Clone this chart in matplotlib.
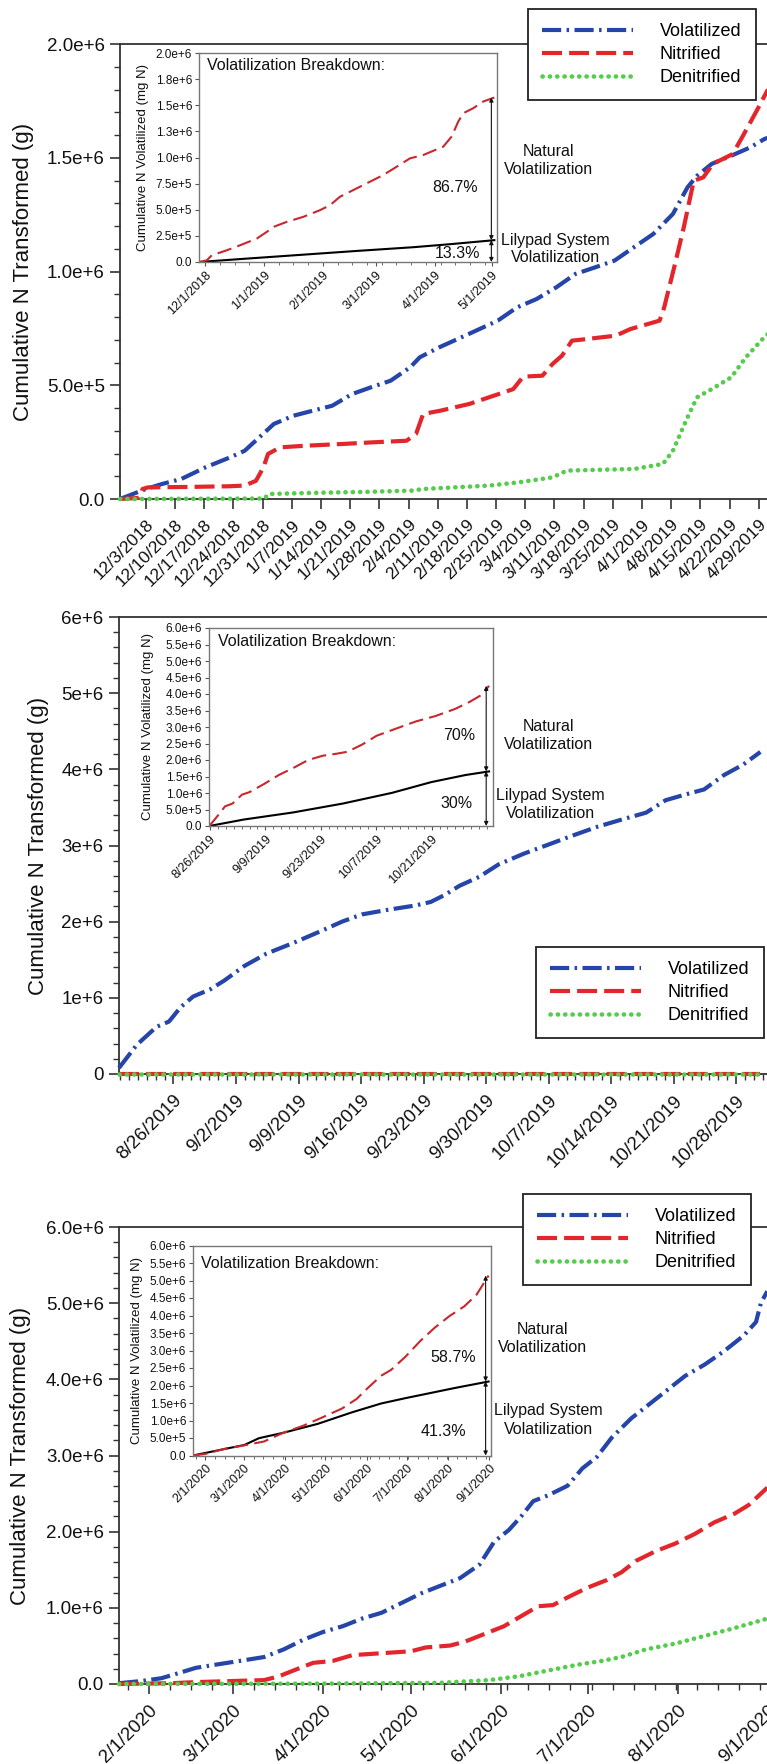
import numpy as np
import pandas as pd
import matplotlib
matplotlib.use("Agg")
import matplotlib.pyplot as plt
import matplotlib.dates as mdates
from matplotlib.ticker import FixedLocator, AutoMinorLocator, MultipleLocator
from matplotlib.lines import Line2D

plt.rcParams["font.family"] = ["Liberation Sans", "DejaVu Sans"]

W, H = 767, 1764

# ---------------- panel 1: Dec 2018 - Apr 2019 ----------------
p1_start = "2018-12-03"
p1_vol_days = [-6.2, 0, 3.9, 8.5, 14.4, 20.2, 23.7, 28.1, 30.7, 35.4, 40.0, 44.7, 49.4, 54.0,
               58.7, 63.4, 65.7, 70.4, 77.4, 84.4, 89.0, 93.7, 98.4, 103.0, 107.7, 112.4,
               117.0, 121.7, 126.4, 129.9, 132.2, 135.7, 140.4, 145.0, 148.3, 149.5]
p1_vol = [0, 44e3, 66e3, 88e3, 140e3, 183e3, 212e3, 286e3, 330e3, 366e3, 388e3, 410e3, 461e3,
          491e3, 520e3, 579e3, 623e3, 667e3, 725e3, 784e3, 842e3, 879e3, 930e3, 989e3, 1018e3,
          1048e3, 1106e3, 1165e3, 1253e3, 1370e3, 1421e3, 1473e3, 1509e3, 1546e3, 1582e3, 1590e3]
p1_nit_days = [-6.2, -1.5, -0.8, 0.5, 10, 20, 23.7, 26.4, 28.2, 29.3, 32.2, 38.0, 47.3, 54.3,
               62.5, 64.8, 66.5, 70.6, 77.6, 82.3, 88.1, 90.5, 95.1, 97.5, 99.8, 102.2, 105.7,
               112.7, 116.2, 123.2, 124.3, 126.7, 129.0, 131.4, 133.7, 136.0, 140.7, 143.0,
               146.5, 148.6, 149.5]
p1_nit = [0, 5e3, 44e3, 51e3, 53e3, 56e3, 59e3, 80e3, 139e3, 198e3, 227e3, 234e3, 242e3, 249e3,
          256e3, 286e3, 374e3, 388e3, 418e3, 447e3, 483e3, 538e3, 542e3, 593e3, 630e3, 696e3,
          703e3, 718e3, 747e3, 784e3, 842e3, 1018e3, 1194e3, 1399e3, 1414e3, 1473e3, 1516e3,
          1590e3, 1707e3, 1780e3, 1810e3]
p1_den_days = [-6.2, 28.4, 29.5, 40, 52, 64, 66.5, 82.3, 89.3, 97.5, 101, 117.1, 124, 126.4,
               129.9, 132.2, 135.7, 140.4, 143.9, 148.3, 149.5]
p1_den = [0, 2e3, 22e3, 27e3, 31e3, 37e3, 44e3, 59e3, 73e3, 95e3, 125e3, 132e3, 154e3, 212e3,
          359e3, 447e3, 483e3, 535e3, 623e3, 711e3, 730e3]
p1_xticks = ["12/3/2018", "12/10/2018", "12/17/2018", "12/24/2018", "12/31/2018", "1/7/2019",
             "1/14/2019", "1/21/2019", "1/28/2019", "2/4/2019", "2/11/2019", "2/18/2019",
             "2/25/2019", "3/4/2019", "3/11/2019", "3/18/2019", "3/25/2019", "4/1/2019",
             "4/8/2019", "4/15/2019", "4/22/2019", "4/29/2019"]
p1_yticks = [0, 5e5, 1e6, 1.5e6, 2e6]
p1_ylabels = ["0.0", "5.0e+5", "1.0e+6", "1.5e+6", "2.0e+6"]

# inset 1: total vs lilypad volatilization
in1_start = "2018-12-01"
in1_tot_days = [-3, 0.9, 3.5, 11.4, 18.4, 27.2, 32.5, 36, 43, 51.7, 60.5, 65.8, 71, 78, 85, 93.8,
                100.9, 107.9, 114.9, 125.4, 129.8, 133.3, 136, 141.2, 146.5, 152.3]
in1_tot = [0, 16e3, 64e3, 112e3, 160e3, 224e3, 288e3, 336e3, 384e3, 432e3, 496e3, 544e3, 624e3,
           688e3, 752e3, 832e3, 912e3, 992e3, 1024e3, 1104e3, 1200e3, 1344e3, 1424e3, 1472e3,
           1536e3, 1574e3]
in1_lily_days = [-3, 20, 50, 80, 110, 130, 152.3]
in1_lily = [0, 30e3, 68e3, 106e3, 142e3, 172e3, 209e3]
in1_xticks = ["12/1/2018", "1/1/2019", "2/1/2019", "3/1/2019", "4/1/2019", "5/1/2019"]
in1_yticks = [0, 2.5e5, 5e5, 7.5e5, 1e6, 1.25e6, 1.5e6, 1.75e6, 2e6]
in1_ylabels = ["0.0", "2.5e+5", "5.0e+5", "7.5e+5", "1.0e+6", "1.3e+6", "1.5e+6", "1.8e+6", "2.0e+6"]
in1_pct = ["86.7%", "13.3%"]

# ---------------- panel 2: Aug - Oct 2019 ----------------
p2_start = "2019-08-26"
p2_vol_days = [-6.1, -4.1, -1.9, -0.5, 0.8, 2.2, 4.1, 5.7, 7.9, 10.4, 13.4, 16.2, 18.9, 21.1,
               23.8, 27.1, 28.8, 30.4, 32.0, 34.2, 36.4, 39.2, 41.9, 44.6, 47.4, 50.1, 52.9,
               55.1, 57.2, 59.4, 61.6, 63.8, 65.7]
p2_vol = [80e3, 384e3, 619e3, 689e3, 877e3, 1017e3, 1111e3, 1228e3, 1416e3, 1580e3, 1720e3,
          1861e3, 2002e3, 2095e3, 2152e3, 2213e3, 2259e3, 2353e3, 2470e3, 2587e3, 2752e3,
          2892e3, 3009e3, 3127e3, 3244e3, 3338e3, 3431e3, 3595e3, 3666e3, 3736e3, 3923e3,
          4064e3, 4228e3]
p2_nit_days = [-6.1, 65.7]
p2_nit = [0, 0]
p2_den_days = [-6.1, 65.7]
p2_den = [0, 0]
p2_xticks = ["8/26/2019", "9/2/2019", "9/9/2019", "9/16/2019", "9/23/2019", "9/30/2019",
             "10/7/2019", "10/14/2019", "10/21/2019", "10/28/2019"]
p2_yticks = [0, 1e6, 2e6, 3e6, 4e6, 5e6, 6e6]
p2_ylabels = ["0", "1e+6", "2e+6", "3e+6", "4e+6", "5e+6", "6e+6"]

in2_start = "2019-08-26"
in2_tot_days = [-0.15, 1.9, 3.8, 5.7, 8.1, 10, 13.7, 17.4, 21.1, 24.8, 28.5, 32.2, 34.7, 38.4,
                42.1, 47, 52, 56.9, 61.9, 65.6, 68.7, 70.5]
in2_tot = [0, 303e3, 595e3, 681e3, 951e3, 1027e3, 1276e3, 1546e3, 1762e3, 2000e3, 2130e3,
           2195e3, 2249e3, 2465e3, 2735e3, 2951e3, 3168e3, 3330e3, 3546e3, 3762e3, 3978e3, 4249e3]
in2_lily_days = [-0.15, 8.5, 21, 33.6, 46, 55.9, 64.6, 70.5]
in2_lily = [0, 195e3, 411e3, 681e3, 1005e3, 1330e3, 1546e3, 1654e3]
in2_xticks = ["8/26/2019", "9/9/2019", "9/23/2019", "10/7/2019", "10/21/2019"]
in2_pct = ["70%", "30%"]

# ---------------- panel 3: Feb - Sep 2020 ----------------
p3_start = "2020-02-01"
p3_vol_days = [-10.3, -2.4, 4.3, 11, 16.1, 24.5, 32.9, 39.6, 46.4, 53.1, 59.8, 66.6, 73.3, 80,
               86.8, 93.5, 100.2, 107, 113.7, 118.8, 123.8, 128, 132.2, 137.3, 144, 149.1, 154.1,
               159.2, 165.9, 171, 177.7, 184.4, 191.2, 197.9, 204.6, 208.8, 210.5, 212.7]
p3_vol = [10e3, 40e3, 76e3, 152e3, 212e3, 263e3, 313e3, 354e3, 455e3, 581e3, 682e3, 758e3,
          859e3, 935e3, 1062e3, 1188e3, 1289e3, 1390e3, 1567e3, 1870e3, 2022e3, 2199e3, 2401e3,
          2477e3, 2603e3, 2831e3, 2982e3, 3235e3, 3488e3, 3640e3, 3842e3, 4044e3, 4195e3,
          4372e3, 4575e3, 4752e3, 5004e3, 5156e3]
p3_nit_days = [-10.3, 7.6, 16.1, 29.5, 39.6, 44.7, 49.7, 56.5, 63.2, 70, 80, 90.2, 95.2, 103.6,
               108.7, 115.4, 122.1, 128.9, 133.9, 139, 144, 150.8, 157.5, 162.5, 167.6, 174.3,
               181.1, 187.8, 194.5, 201.3, 206.3, 212.7]
p3_nit = [0, 10e3, 25e3, 40e3, 51e3, 101e3, 177e3, 278e3, 303e3, 379e3, 404e3, 430e3, 480e3,
          505e3, 556e3, 657e3, 758e3, 910e3, 1021e3, 1036e3, 1137e3, 1264e3, 1365e3, 1466e3,
          1618e3, 1744e3, 1845e3, 1971e3, 2123e3, 2234e3, 2350e3, 2578e3]
p3_den_days = [-10.3, 60, 100, 117, 127.2, 137.3, 147.4, 155.8, 162.5, 171, 181.1, 191.2, 201.3,
               212.7]
p3_den = [0, 5e3, 15e3, 51e3, 101e3, 177e3, 253e3, 303e3, 354e3, 455e3, 531e3, 632e3, 733e3,
          859e3]
p3_xticks = ["2/1/2020", "3/1/2020", "4/1/2020", "5/1/2020", "6/1/2020", "7/1/2020",
             "8/1/2020", "9/1/2020"]
p3_yticks = [0, 1e6, 2e6, 3e6, 4e6, 5e6, 6e6]
p3_ylabels = ["0.0", "1.0e+6", "2.0e+6", "3.0e+6", "4.0e+6", "5.0e+6", "6.0e+6"]

in3_start = "2020-02-01"
in3_tot_days = [-9.2, 0, 14.6, 29.3, 44, 58.6, 73.3, 87.9, 102.6, 113.6, 120.9, 131.9, 139.3,
                150.3, 161.2, 172.2, 183.2, 194.2, 203.4, 212.5]
in3_tot = [0, 44e3, 190e3, 290e3, 400e3, 650e3, 848e3, 1090e3, 1343e3, 1618e3, 1894e3, 2279e3,
           2444e3, 2829e3, 3270e3, 3655e3, 3985e3, 4260e3, 4591e3, 5141e3]
in3_lily_days = [-9.2, 14.6, 29.3, 40.3, 58.6, 84.3, 110, 131.9, 150.3, 168.6, 186.9, 212.5]
in3_lily = [0, 187e3, 300e3, 495e3, 650e3, 903e3, 1233e3, 1486e3, 1640e3, 1783e3, 1927e3, 2114e3]
in3_xticks = ["2/1/2020", "3/1/2020", "4/1/2020", "5/1/2020", "6/1/2020", "7/1/2020",
              "8/1/2020", "9/1/2020"]
in3_pct = ["58.7%", "41.3%"]

in_big_yticks = [0, 5e5, 1e6, 1.5e6, 2e6, 2.5e6, 3e6, 3.5e6, 4e6, 4.5e6, 5e6, 5.5e6, 6e6]
in_big_ylabels = ["0.0", "5.0e+5", "1.0e+6", "1.5e+6", "2.0e+6", "2.5e+6", "3.0e+6",
                  "3.5e+6", "4.0e+6", "4.5e+6", "5.0e+6", "5.5e+6", "6.0e+6"]

series_names = ["Volatilized", "Nitrified", "Denitrified"]

# line styles
VOL = dict(color="#2546a8", lw=3, ls=(0, (4.6, 1.3, 0.6, 1.3)))
NIT = dict(color="#e3262b", lw=3, ls=(0, (4.8, 1.7)))
DEN = dict(color="#55cc4c", lw=3.3, ls=(0, (0.05, 1.55)), dash_capstyle="round")
TOT = dict(color="#c7282e", lw=1.5, ls=(0, (7, 3)))
LILY = dict(color="black", lw=1.5)

fig = plt.figure(figsize=(W / 100, H / 100), dpi=100)


def px_axes(left, top, right, bottom):
    return fig.add_axes([left / W, 1 - bottom / H, (right - left) / W, (bottom - top) / H])


def dnum(start, days):
    return mdates.date2num(pd.Timestamp(start)) + np.asarray(days, dtype=float)


def tick_nums(labels):
    return mdates.date2num(pd.to_datetime(labels, format="%m/%d/%Y").to_pydatetime())


def ftext(x, y, s, **kw):
    fig.text(x / W, 1 - y / H, s, **kw)


def main_panel(rect, start, xlim, vol, nit, den, xticks, yticks, ylabels, ymax, yminor,
               xminor, xfs, label_right):
    ax = px_axes(*rect)
    ax.plot(dnum(start, vol[0]), vol[1], clip_on=False, zorder=3, **VOL)
    ax.plot(dnum(start, nit[0]), nit[1], clip_on=False, zorder=4, **NIT)
    ax.plot(dnum(start, den[0]), den[1], clip_on=False, zorder=5, **DEN)
    ax.set_xlim(dnum(start, xlim))
    ax.set_ylim(0, ymax)
    ax.xaxis.set_major_locator(FixedLocator(tick_nums(xticks)))
    ax.set_xticklabels(xticks, rotation=45, ha="right", rotation_mode="anchor", fontsize=xfs)
    if xminor:
        ax.xaxis.set_minor_locator(xminor)
    ax.set_yticks(yticks)
    ax.set_yticklabels(ylabels, fontsize=13.5)
    ax.yaxis.set_minor_locator(MultipleLocator(yminor))
    ax.spines["right"].set_visible(False)
    for s in ["left", "bottom", "top"]:
        ax.spines[s].set_linewidth(1.3)
        ax.spines[s].set_color("#333333")
    ax.tick_params(which="major", direction="out", length=7, width=1.2, color="#333333",
                   pad=4, labelcolor="#111111")
    ax.tick_params(which="minor", direction="out", length=4, width=1.0, color="#333333")
    ax.tick_params(axis="x", which="major", pad=6)
    ax.set_ylabel("Cumulative N Transformed (g)", fontsize=16, color="#111111")
    width = rect[2] - rect[0]
    ax.yaxis.set_label_coords((label_right - rect[0]) / width, 0.5)
    return ax


def add_legend(ax, left, top):
    handles = [Line2D([], [], **VOL), Line2D([], [], **NIT), Line2D([], [], **DEN)]
    leg = ax.legend(handles, series_names, loc="upper left",
                    bbox_to_anchor=(left / W, 1 - top / H), bbox_transform=fig.transFigure,
                    fancybox=False, framealpha=1, edgecolor="#222222", fontsize=13,
                    handlelength=5.0, handletextpad=1.5, labelspacing=0.32, borderpad=0.8,
                    borderaxespad=0)
    leg.get_frame().set_linewidth(1.3)
    leg.set_zorder(10)


def inset_panel(rect, start, xlim, tot, lily, xticks, yticks, ylabels, ymax, xminor, label_right):
    ax = px_axes(*rect)
    ax.set_facecolor("white")
    tx, ty = dnum(start, tot[0]), tot[1]
    lx, ly = dnum(start, lily[0]), lily[1]
    ax.plot(lx, ly, **LILY)
    ax.plot(tx, ty, **TOT)
    ax.set_xlim(dnum(start, xlim))
    ax.set_ylim(0, ymax)
    ax.xaxis.set_major_locator(FixedLocator(tick_nums(xticks)))
    ax.set_xticklabels(xticks, rotation=45, ha="right", rotation_mode="anchor", fontsize=9)
    ax.xaxis.set_minor_locator(AutoMinorLocator(xminor))
    ax.set_yticks(yticks)
    ax.set_yticklabels(ylabels, fontsize=8.5)
    for s in ax.spines.values():
        s.set_color("#777777")
        s.set_linewidth(1.0)
    ax.tick_params(which="major", direction="out", length=3, width=0.8, color="#555555",
                   pad=2, labelcolor="#111111")
    ax.tick_params(which="minor", direction="out", length=2, width=0.6, color="#555555")
    ax.set_ylabel("Cumulative N Volatilized (mg N)", fontsize=9.5, color="#111111")
    width = rect[2] - rect[0]
    ax.yaxis.set_label_coords((label_right - rect[0]) / width, 0.5)
    # double arrows splitting the total into natural and lilypad parts
    xa = lx[-1] - 1.5 * (xlim[1] - xlim[0]) / 150
    arrow = dict(arrowstyle="<|-|>", lw=0.8, color="#111111", mutation_scale=6,
                 shrinkA=0, shrinkB=0)
    ax.annotate("", xy=(xa, ty[-1]), xytext=(xa, ly[-1]), arrowprops=arrow)
    ax.annotate("", xy=(xa, ly[-1]), xytext=(xa, 0), arrowprops=arrow)
    return ax


def inset_texts(title_xy, pct, pct_xy, nat_xy, lily_xy):
    ftext(*title_xy, "Volatilization Breakdown:", fontsize=11.5, ha="left", va="center",
          color="#111111")
    ftext(*pct_xy[0], pct[0], fontsize=11.5, ha="center", va="center", color="#111111")
    ftext(*pct_xy[1], pct[1], fontsize=11.5, ha="center", va="center", color="#111111")
    ftext(*nat_xy, "Natural\nVolatilization", fontsize=11.5, ha="center", va="center",
          linespacing=1.25, color="#111111")
    ftext(*lily_xy, "Lilypad System\nVolatilization", fontsize=11.5, ha="center", va="center",
          linespacing=1.25, color="#111111")


# panel 1
ax1 = main_panel((120, 44, 775.5, 499), p1_start, (-6.2, 151),
                 (p1_vol_days, p1_vol), (p1_nit_days, p1_nit), (p1_den_days, p1_den),
                 p1_xticks, p1_yticks, p1_ylabels, 2e6, 1e5, None, 12.5, 34)
add_legend(ax1, 528, 9)
inset_panel((199, 53, 497, 262), in1_start, (-3.2, 153.7), (in1_tot_days, in1_tot),
            (in1_lily_days, in1_lily), in1_xticks, in1_yticks, in1_ylabels, 2e6, 4, 149)
inset_texts((207, 66), in1_pct, [(455, 188), (458, 253)], (548, 160), (555, 249))

# panel 2
ax2 = main_panel((119, 617, 772, 1074), p2_start, (-6.1, 67),
                 (p2_vol_days, p2_vol), (p2_nit_days, p2_nit), (p2_den_days, p2_den),
                 p2_xticks, p2_yticks, p2_ylabels, 6e6, 2e5, MultipleLocator(1), 13.5, 49)
add_legend(ax2, 536, 947)
inset_panel((209, 628, 493, 826), in2_start, (-0.25, 71.5), (in2_tot_days, in2_tot),
            (in2_lily_days, in2_lily), in2_xticks, in_big_yticks, in_big_ylabels, 6e6, 7, 154)
inset_texts((218, 641), in2_pct, [(459, 736), (457, 803)], (548, 735), (550, 804))

# panel 3
ax3 = main_panel((119, 1227, 774, 1684), p3_start, (-10.3, 215),
                 (p3_vol_days, p3_vol), (p3_nit_days, p3_nit), (p3_den_days, p3_den),
                 p3_xticks, p3_yticks, p3_ylabels, 6e6, 2e5, AutoMinorLocator(4), 13.5, 31)
add_legend(ax3, 523, 1194)
inset_panel((193, 1245.5, 491, 1455.5), in3_start, (-9.2, 214.3), (in3_tot_days, in3_tot),
            (in3_lily_days, in3_lily), in3_xticks, in_big_yticks, in_big_ylabels, 6e6, 4, 143)
inset_texts((201, 1263), in3_pct, [(453, 1357), (443, 1432)], (542, 1339), (548, 1420))

fig.savefig("out.png", dpi=100)
